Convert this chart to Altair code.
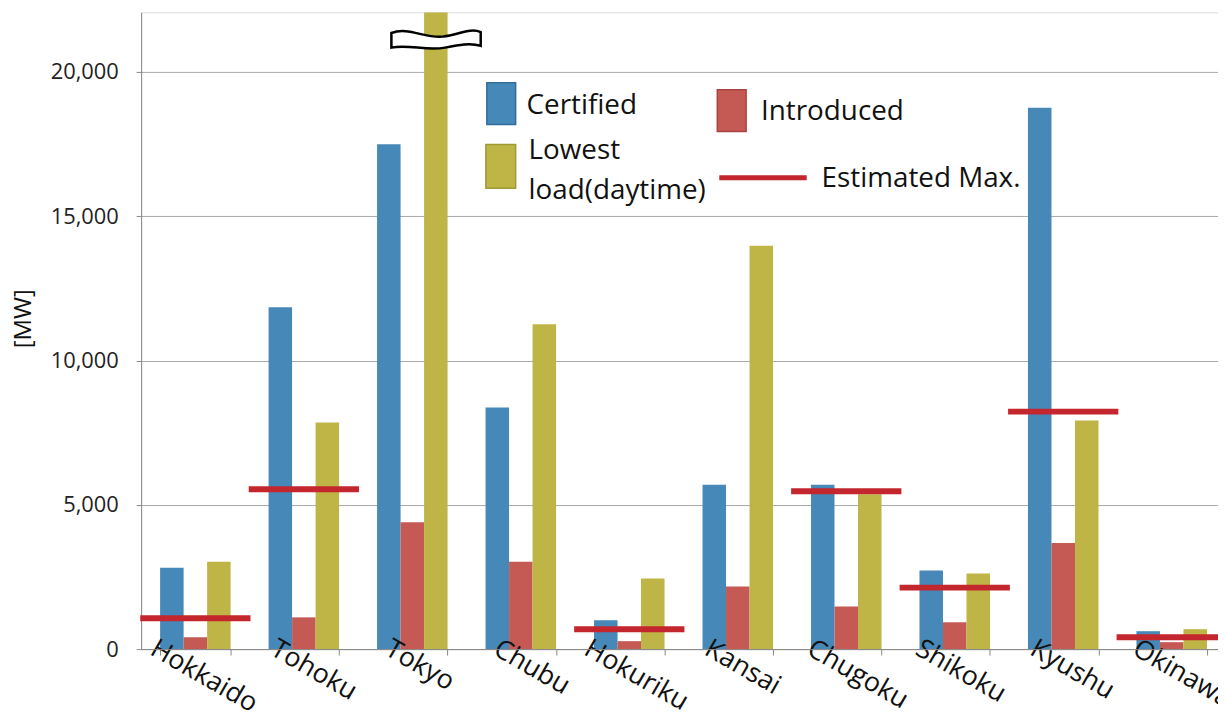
import altair as alt
import pandas as pd

# ---- data ----
companies = ["Hokkaido", "Tohoku", "Tokyo", "Chubu", "Hokuriku",
             "Kansai", "Chugoku", "Shikoku", "Kyushu", "Okinawa"]
certified = [2820, 11850, 17500, 8370, 1000, 5700, 5700, 2720, 18760, 620]
introduced = [410, 1100, 4400, 3030, 275, 2170, 1480, 930, 3680, 240]
# Tokyo's lowest load bar is broken (drawn beyond the top of the chart)
lowest_load = [3030, 7850, 22070, 11260, 2450, 13980, 5370, 2620, 7920, 690]
estimated_max = [1070, 5540, None, None, 690, None, 5470, 2130, 8230, 410]

series_names = ["Certified", "Introduced", "Lowest load(daytime)"]
series_colors = ["#4689b8", "#c55a55", "#bfb546"]
series_borders = ["#2f6f9a", "#a84440", "#a09a36"]
est_label = "Estimated Max."
est_color = "#c4262e"

y_ticks = [0, 5000, 10000, 15000, 20000]
y_max = 22070
title_text = "The estimation for the maximum of acceptance by each power company"
y_title = "[MW]"

break_company = "Tokyo"
break_series = "Lowest load(daytime)"
break_value = 21100

FONT = "Open Sans"

# ---- tables ----
rows = []
for i, c in enumerate(companies):
    for s, vals in zip(series_names, [certified, introduced, lowest_load]):
        rows.append({"company": c, "series": s, "value": vals[i]})
bars_df = pd.DataFrame(rows)

est_df = pd.DataFrame({"company": companies, "value": estimated_max}).dropna()
brk_df = pd.DataFrame({"company": [break_company], "series": [break_series], "value": [break_value]})

# legend (drawn inside the plot area, pixel coordinates of the plot)
leg_sw = pd.DataFrame({
    "x1": [348, 580, 347], "x2": [377, 609, 377],
    "y1": [71, 78, 133], "y2": [113, 120, 177],
    "fill": series_colors, "stroke": series_borders,
})
leg_txt = pd.DataFrame({
    "x": [388, 624, 390, 685],
    "y": [102, 108, 148, 176],
    "label": ["Certified", "Introduced", "Lowest\nload(daytime)", est_label],
})
leg_line = pd.DataFrame({"x1": [582], "x2": [670], "y": [166.5]})

x_enc = alt.X(
    "company:N", sort=companies,
    scale=alt.Scale(paddingInner=0.35, paddingOuter=0.175),
    axis=alt.Axis(
        title=None, labelAngle=30, labelAlign="left", labelBaseline="top",
        labelFontSize=27, labelColor="#111", labelFont=FONT,
        labelOffset={"expr": "11 - 6*length(datum.label)"},
        labelPadding=-20, labelOverlap=False, labelBound=False,
        tickBand="extent", tickSize=6, tickColor="#888", domainColor="#888",
        grid=False, zindex=1,
    ),
)
y_enc = alt.Y(
    "value:Q",
    scale=alt.Scale(domain=[0, y_max], nice=False, zero=True),
    axis=alt.Axis(
        values=y_ticks, format=",.0f", title=y_title, titleFontSize=24,
        titleFontWeight="normal", titleFont=FONT, titleColor="#111",
        titleX=-118, titleY=308, titleAlign="center", titleBaseline="middle",
        labelFontSize=22, labelFont=FONT, labelColor="#222", labelPadding=18,
        tickSize=5, tickColor="#888", domainColor="#888",
        grid=True, gridColor="#a8a8a8", gridWidth=1,
    ),
)

bars = alt.Chart(bars_df).mark_bar(clip=True).encode(
    x=x_enc,
    xOffset=alt.XOffset("series:N", sort=series_names,
                        scale=alt.Scale(paddingInner=0, paddingOuter=0)),
    y=y_enc,
    color=alt.Color("series:N", scale=alt.Scale(domain=series_names, range=series_colors),
                    legend=None),
)

est = alt.Chart(est_df).mark_tick(size=111, thickness=6, color=est_color, opacity=1).encode(
    x=alt.X("company:N", sort=companies),
    y=alt.Y("value:Q"),
)

break_path = ("M -0.97 -0.16 C -0.6 -0.3 -0.25 -0.04 0.15 -0.08 "
              "C 0.5 -0.12 0.75 -0.28 0.98 -0.18 L 0.98 0.12 "
              "C 0.75 0.05 0.5 0.1 0.2 0.16 C -0.2 0.24 -0.6 0.08 -0.97 0.16 Z")
brk = alt.Chart(brk_df).mark_point(
    shape=break_path, size=8500, filled=True, fill="white",
    stroke="black", strokeWidth=2.5, opacity=1,
).encode(
    x=alt.X("company:N", sort=companies),
    xOffset=alt.XOffset("series:N", sort=series_names),
    y=alt.Y("value:Q"),
)

sw = alt.Chart(leg_sw).mark_rect(strokeWidth=1.5).encode(
    x=alt.X("x1:Q", scale=None, axis=None), x2="x2:Q",
    y=alt.Y("y1:Q", scale=None, axis=None), y2="y2:Q",
    fill=alt.Fill("fill:N", scale=None),
    stroke=alt.Stroke("stroke:N", scale=None),
)
ln = alt.Chart(leg_line).mark_rule(strokeWidth=5, color=est_color).encode(
    x=alt.X("x1:Q", scale=None, axis=None), x2="x2:Q",
    y=alt.Y("y:Q", scale=None, axis=None),
)
txt = alt.Chart(leg_txt).mark_text(
    align="left", baseline="alphabetic", fontSize=28, font=FONT,
    color="#111", lineBreak="\n", lineHeight=40,
).encode(
    x=alt.X("x:Q", scale=None, axis=None),
    y=alt.Y("y:Q", scale=None, axis=None),
    text="label:N",
)

chart = alt.layer(bars, est, brk, sw, ln, txt).properties(
    width=1092, height=641,
    title=alt.TitleParams(text=title_text, fontSize=26, fontWeight="bold", font=FONT,
                          color="#111", anchor="middle", dx=-26, offset=0,
                          baseline="alphabetic"),
    autosize=alt.AutoSizeParams(type="none"),
    padding={"left": 134, "top": 2, "right": -8, "bottom": 63},
).configure_view(stroke=None).configure(background="white")

chart.save("out.html", embed_options={"renderer": "svg", "actions": False})
